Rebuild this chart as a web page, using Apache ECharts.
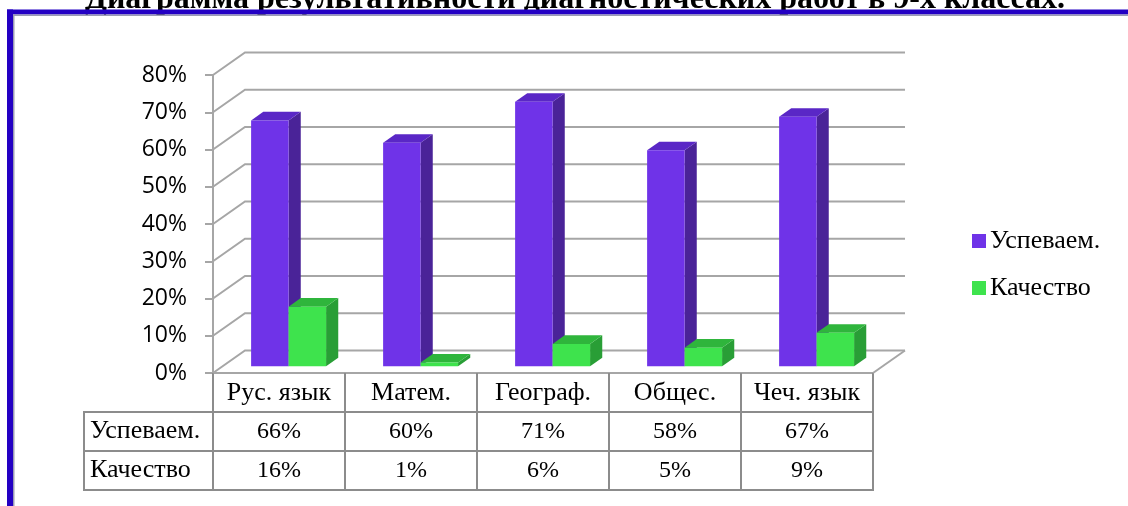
<!DOCTYPE html>
<html>
<head>
<meta charset="utf-8">
<title>Диаграмма результативности</title>
<script src="https://cdn.jsdelivr.net/npm/echarts@6/dist/echarts.min.js"></script>
<style>
    html, body { margin: 0; padding: 0; background: #fff; }
    #chart { width: 1128px; height: 506px; }
</style>
</head>
<body>
<div id="chart"></div>
<script>
// данные диаграммы
const categories = ['Рус. язык', 'Матем.', 'Географ.', 'Общес.', 'Чеч. язык'];
const uspevaem = [66, 60, 71, 58, 67];
const kachestvo = [16, 1, 6, 5, 9];
const seriesNames = ['Успеваем.', 'Качество'];
const yTicks = [0, 10, 20, 30, 40, 50, 60, 70, 80];

// оформление
const SERIF = '"Liberation Serif", "DejaVu Serif", serif';
const SANS = '"Open Sans", "Noto Sans", sans-serif';
const GRID_COLOR = '#a6a6a6';
const TABLE_COLOR = '#8c8c8c';
const DEPTH_X = 32;      // глубина "3D" стенки
const DEPTH_Y = -22.5;
const BAR_FRONT = 0.3;   // где начинается столбик по глубине
const BAR_BACK = 0.68;
const BAR_W = 0.284;     // ширина столбика в долях категории
const ROW_H = 39;
const LABEL_COL_W = 129;

const faces = [
    { front: '#6f33e8', top: '#5a27c6', side: '#4a2398' },
    { front: '#3ee34d', top: '#2fb53c', side: '#299e36' }
];

const chartDom = document.getElementById('chart');
const chart = echarts.init(chartDom);

// стенка с линиями сетки (задний план)
function renderWall(params, api) {
    const v = api.value(0);
    const cs = params.coordSys;
    const y = api.coord([0, v])[1];
    const left = cs.x;
    const right = cs.x + cs.width;
    const children = [{
        type: 'polyline',
        shape: { points: [[left, y], [left + DEPTH_X, y + DEPTH_Y], [right + DEPTH_X, y + DEPTH_Y]] },
        style: { stroke: GRID_COLOR, lineWidth: 2, fill: null }
    }];
    if (v === 0) {
        children.push({
            type: 'line',
            shape: { x1: right, y1: y, x2: right + DEPTH_X, y2: y + DEPTH_Y },
            style: { stroke: GRID_COLOR, lineWidth: 2 }
        });
    }
    return { type: 'group', children: children };
}

// объемный столбик
function makeBarRender(seriesIdx) {
    return function (params, api) {
        const i = api.value(0);
        const base = api.coord([i, 0]);
        const top = api.coord([i, api.value(1)]);
        const bw = api.size([1, 0])[0];
        const w = bw * BAR_W;
        const x0 = base[0] - w + seriesIdx * w;
        const x1 = x0 + w;
        const fx = DEPTH_X * BAR_FRONT, fy = DEPTH_Y * BAR_FRONT;
        const bx = DEPTH_X * BAR_BACK, by = DEPTH_Y * BAR_BACK;
        const yb = base[1], yt = top[1];
        const c = faces[seriesIdx];
        return {
            type: 'group',
            children: [
                {
                    type: 'polygon',
                    shape: { points: [[x1 + fx, yt + fy], [x1 + bx, yt + by], [x1 + bx, yb + by], [x1 + fx, yb + fy]] },
                    style: { fill: c.side }
                },
                {
                    type: 'polygon',
                    shape: { points: [[x0 + fx, yt + fy], [x0 + bx, yt + by], [x1 + bx, yt + by], [x1 + fx, yt + fy]] },
                    style: { fill: c.top }
                },
                {
                    type: 'rect',
                    shape: { x: x0 + fx, y: yt + fy, width: w, height: yb - yt },
                    style: { fill: c.front }
                }
            ]
        };
    };
}

function textEl(text, x, y, align, size) {
    return {
        type: 'text',
        style: {
            text: text, x: x, y: y,
            align: align, textAlign: align,
            verticalAlign: 'middle', textVerticalAlign: 'middle',
            font: size + 'px ' + SERIF, fill: '#000'
        }
    };
}

// таблица данных под диаграммой
function renderTable(params, api) {
    const i = api.value(0);
    const c = api.coord([i, 0]);
    const bw = api.size([1, 0])[0];
    const y0 = c[1] + ROW_H;
    const xl = c[0] - bw / 2;
    const children = [];
    [api.value(1), api.value(2)].forEach(function (val, r) {
        children.push({
            type: 'rect',
            shape: { x: xl, y: y0 + r * ROW_H, width: bw, height: ROW_H },
            style: { fill: null, stroke: TABLE_COLOR, lineWidth: 2 }
        });
        children.push(textEl(val + '%', c[0], y0 + r * ROW_H + ROW_H / 2, 'center', 24));
    });
    if (i === 0) {
        seriesNames.forEach(function (name, r) {
            children.push({
                type: 'rect',
                shape: { x: xl - LABEL_COL_W, y: y0 + r * ROW_H, width: LABEL_COL_W, height: ROW_H },
                style: { fill: null, stroke: TABLE_COLOR, lineWidth: 2 }
            });
            children.push(textEl(name, xl - LABEL_COL_W + 6, y0 + r * ROW_H + ROW_H / 2, 'left', 26));
        });
    }
    return { type: 'group', children: children };
}

const option = {
    animation: false,
    color: [faces[0].front, faces[1].front],
    title: {
        text: 'Диаграмма результативности диагностических работ в 9-х классах.',
        left: 570,
        textAlign: 'center',
        top: -21,
        textStyle: { fontFamily: SERIF, fontSize: 32, fontWeight: 'bold', color: '#000' }
    },
    legend: {
        data: seriesNames,
        orient: 'vertical',
        left: 972,
        top: 228,
        padding: 0,
        itemWidth: 14,
        itemHeight: 14,
        itemGap: 21,
        icon: 'rect',
        selectedMode: false,
        textStyle: { fontFamily: SERIF, fontSize: 26, lineHeight: 24, color: '#000', padding: [0, 0, 0, -1] }
    },
    grid: { left: 213, top: 75, width: 660, height: 298 },
    xAxis: {
        type: 'category',
        data: categories,
        axisLine: { lineStyle: { color: GRID_COLOR, width: 2 } },
        axisTick: { show: true, interval: 0, length: ROW_H, lineStyle: { color: TABLE_COLOR, width: 2 } },
        axisLabel: { interval: 0, margin: 7, fontFamily: SERIF, fontSize: 26, color: '#000' },
        splitLine: { show: false }
    },
    yAxis: {
        type: 'value',
        min: 0,
        max: 80,
        interval: 10,
        axisLine: { show: true, lineStyle: { color: GRID_COLOR, width: 2 } },
        axisTick: { show: true, length: 8, lineStyle: { color: GRID_COLOR, width: 2 } },
        axisLabel: { formatter: '{value}%', margin: 26, fontFamily: SANS, fontSize: 23, color: '#000' },
        splitLine: { show: false }
    },
    series: [
        {
            name: 'wall',
            type: 'custom',
            renderItem: renderWall,
            data: yTicks.map(function (v) { return [v]; }),
            encode: { y: 0 },
            silent: true,
            z: 1
        },
        {
            name: seriesNames[0],
            type: 'custom',
            renderItem: makeBarRender(0),
            itemStyle: { color: faces[0].front },
            data: uspevaem.map(function (v, i) { return [i, v]; }),
            encode: { x: 0, y: 1 },
            z: 2
        },
        {
            name: seriesNames[1],
            type: 'custom',
            renderItem: makeBarRender(1),
            itemStyle: { color: faces[1].front },
            data: kachestvo.map(function (v, i) { return [i, v]; }),
            encode: { x: 0, y: 1 },
            z: 3
        },
        {
            name: 'table',
            type: 'custom',
            renderItem: renderTable,
            data: categories.map(function (c, i) { return [i, uspevaem[i], kachestvo[i]]; }),
            encode: { x: 0 },
            silent: true,
            z: 4
        }
    ],
    // синяя рамка слайда поверх заголовка
    graphic: [
        { type: 'rect', z: 100, shape: { x: 7, y: 9.5, width: 1121, height: 5 }, style: { fill: '#2300c3' } },
        { type: 'rect', z: 100, shape: { x: 7, y: 9.5, width: 6, height: 497 }, style: { fill: '#2300c3' } },
        { type: 'rect', z: 100, shape: { x: 13, y: 14.5, width: 1115, height: 1.5 }, style: { fill: '#9a9ab4' } },
        { type: 'rect', z: 100, shape: { x: 13, y: 14.5, width: 1.5, height: 492 }, style: { fill: '#9a9ab4' } }
    ]
};

chart.setOption(option);
</script>
</body>
</html>
